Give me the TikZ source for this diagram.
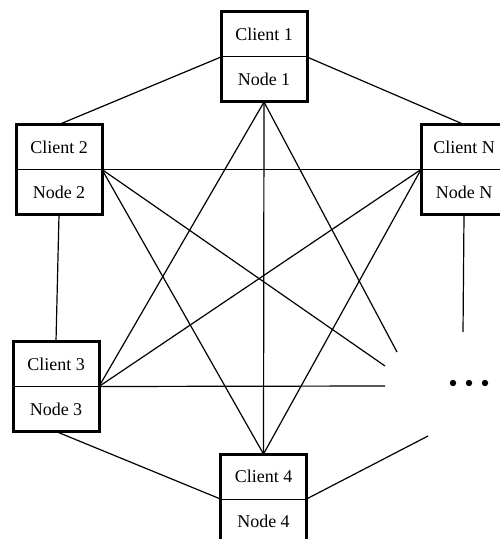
\documentclass[tikz,border=0pt]{standalone}
\usepackage{fontspec}
\setmainfont{Liberation Serif}
\usetikzlibrary{positioning}
\tikzset{
  half/.style={minimum width=43pt, minimum height=22.5pt, inner sep=0pt, outer sep=0pt, font=\fontsize{9}{10}\selectfont},
  frame/.style={line width=1.5pt, line join=miter},
  link/.style={line width=0.6pt},
}
\begin{document}
\begin{tikzpicture}[x=0.5pt, y=-0.5pt]
    \useasboundingbox (0,0) rectangle (499,539);
    % clients with their nodes
    \node[half] (c1) at (264,34.5) {Client 1};
    \node[half, below=0pt of c1] (n1) {Node 1};
    \node[half] (c2) at (59,147) {Client 2};
    \node[half, below=0pt of c2] (n2) {Node 2};
    \node[half] (c3) at (56,364) {Client 3};
    \node[half, below=0pt of c3] (n3) {Node 3};
    \node[half] (c4) at (263.5,476.5) {Client 4};
    \node[half, below=0pt of c4] (n4) {Node 4};
    \node[half] (cN) at (464,147) {Client N};
    \node[half, below=0pt of cN] (nN) {Node N};

    % loose ends towards the missing clients
    \coordinate (e1) at (385,366);
    \coordinate (e2) at (397,352);
    \coordinate (e3) at (385,386);
    \coordinate (e4) at (428,436);
    \coordinate (e5) at (463,332);

    % ring
    \draw[link] (c2.north) -- (c1.south west);
    \draw[link] (c1.south east) -- (cN.north);
    \draw[link] (n2.south) -- (c3.north);
    \draw[link] (n3.south) -- (c4.south west);
    \draw[link] (c4.south east) -- (e4);
    \draw[link] (nN.south) -- (e5);

    % mesh
    \draw[link] (c2.south east) -- (cN.south west);
    \draw[link] (c2.south east) -- (c4.north);
    \draw[link] (c2.south east) -- (e1);
    \draw[link] (n1.south) -- (c3.south east);
    \draw[link] (n1.south) -- (c4.north);
    \draw[link] (n1.south) -- (e2);
    \draw[link] (cN.south west) -- (c3.south east);
    \draw[link] (cN.south west) -- (c4.north);
    \draw[link] (c3.south east) -- (e3);

    % boxes
    \foreach \i in {1,2,3,4,N} {
        \draw[frame] (c\i.north west) rectangle (n\i.south east);
        \draw[line width=0.5pt] (c\i.south west) -- (c\i.south east);
    }

    % more clients
    \foreach \x in {453,469,485} \fill (\x,383) circle (1.6pt);
\end{tikzpicture}
\end{document}
